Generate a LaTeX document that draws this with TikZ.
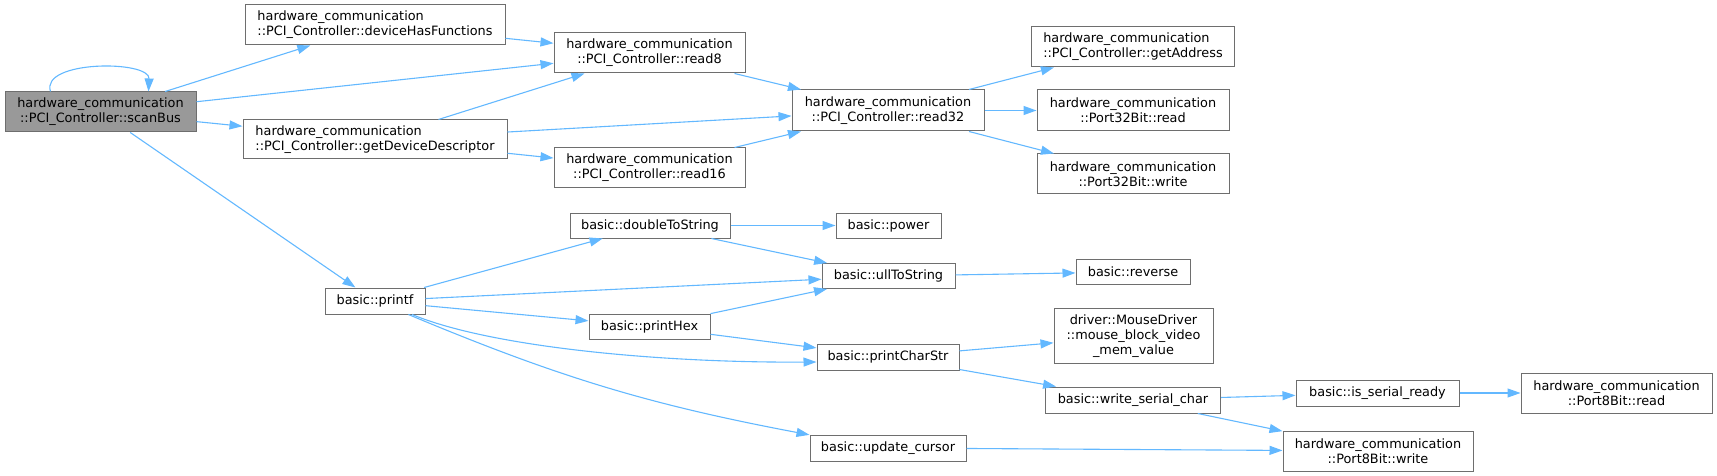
\documentclass[tikz,border=0pt]{standalone}
\usepackage{fontspec}
\setmainfont{DejaVu Sans}
\usepackage{xcolor}
\usepackage{tikz}
\usetikzlibrary{arrows.meta}
\definecolor{edgeblue}{HTML}{63B8FF}
\definecolor{boxgray}{HTML}{6E6E6E}
\definecolor{curgray}{HTML}{999999}

\begin{document}
\begin{tikzpicture}[x=1pt,y=-1pt,
  fn/.style={draw=boxgray, line width=1pt, fill=white, inner sep=0pt,
    font=\fontsize{12.85}{15}\selectfont, align=center},
  fnl/.style={fn, align=left},
  call/.style={draw=edgeblue, line width=1.1pt, -{Triangle[length=13pt,width=9pt]}}]
  \useasboundingbox (0,0) rectangle (1717,476);

  % rank 0
  \node[fn, fill=curgray, minimum width=191pt, minimum height=40pt] (scanBus) at (100.5,112) {hardware\_communication\\::PCI\_Controller::scanBus};
  % rank 1
  \node[fnl, minimum width=260pt, minimum height=40pt] (devFn) at (375,25) {hardware\_communication\\::PCI\_Controller::deviceHasFunctions};
  \node[fnl, minimum width=264pt, minimum height=39pt] (getDesc) at (375,139.5) {hardware\_communication\\::PCI\_Controller::getDeviceDescriptor};
  \node[fn, minimum width=100pt, minimum height=26pt] (printf) at (375,301) {basic::printf};
  % rank 2
  \node[fn, minimum width=191pt, minimum height=40pt] (read8) at (649.5,53) {hardware\_communication\\::PCI\_Controller::read8};
  \node[fn, minimum width=191pt, minimum height=40pt] (read16) at (649.5,168) {hardware\_communication\\::PCI\_Controller::read16};
  \node[fn, minimum width=160pt, minimum height=25pt] (dblStr) at (650,225.5) {basic::doubleToString};
  \node[fn, minimum width=121pt, minimum height=25pt] (printHex) at (649.5,326.5) {basic::printHex};
  % rank 3
  \node[fn, minimum width=192pt, minimum height=41pt] (read32) at (888,110.5) {hardware\_communication\\::PCI\_Controller::read32};
  \node[fn, minimum width=105pt, minimum height=25pt] (power) at (888.5,225.5) {basic::power};
  \node[fn, minimum width=133pt, minimum height=25pt] (ullStr) at (888.5,276) {basic::ullToString};
  \node[fn, minimum width=142pt, minimum height=26pt] (printStr) at (888,357) {basic::printCharStr};
  \node[fn, minimum width=156pt, minimum height=26pt] (cursor) at (888,448) {basic::update\_cursor};
  % rank 4
  \node[fnl, minimum width=203pt, minimum height=40pt] (getAddr) at (1133,47) {hardware\_communication\\::PCI\_Controller::getAddress};
  \node[fn, minimum width=192pt, minimum height=41pt] (p32read) at (1133,110.5) {hardware\_communication\\::Port32Bit::read};
  \node[fn, minimum width=192pt, minimum height=40pt] (p32write) at (1133,174) {hardware\_communication\\::Port32Bit::write};
  \node[fn, minimum width=114pt, minimum height=25pt] (reverse) at (1133,272) {basic::reverse};
  \node[fn, minimum width=159pt, minimum height=55pt] (mouse) at (1133.5,336) {driver::MouseDriver\\::mouse\_block\_video\\\_mem\_value};
  \node[fn, minimum width=175pt, minimum height=26pt] (serChar) at (1133,400) {basic::write\_serial\_char};
  % rank 5 and 6
  \node[fn, minimum width=163pt, minimum height=26pt] (serReady) at (1377.5,393) {basic::is\_serial\_ready};
  \node[fn, minimum width=190pt, minimum height=40pt] (p8write) at (1378,451) {hardware\_communication\\::Port8Bit::write};
  \node[fn, minimum width=191pt, minimum height=40pt] (p8read) at (1616.5,393) {hardware\_communication\\::Port8Bit::read};

  % calls
  \draw[call] ([xshift=-50pt]scanBus.north) .. controls (40,60) and (150,60) .. ([xshift=48pt]scanBus.north);
  \draw[call] (scanBus) -- (devFn);
  \draw[call] (scanBus) -- (read8);
  \draw[call] (scanBus) -- (getDesc);
  \draw[call] (scanBus) -- (printf);
  \draw[call] (devFn) -- (read8);
  \draw[call] (getDesc) -- (read8);
  \draw[call] (getDesc) -- (read32);
  \draw[call] (getDesc) -- (read16);
  \draw[call] (read8) -- (read32);
  \draw[call] (read16) -- (read32);
  \draw[call] (read32) -- (getAddr);
  \draw[call] (read32) -- (p32read);
  \draw[call] (read32) -- (p32write);
  \draw[call] (printf) -- (dblStr);
  \draw[call] (printf) -- (ullStr);
  \draw[call] (printf) -- (printHex);
  \draw[call] (printf.-20) .. controls (490,347) and (660,363) .. (printStr.184);
  \draw[call] (printf.-22) to[bend right=6] (cursor);
  \draw[call] (dblStr) -- (power);
  \draw[call] (dblStr) -- (ullStr);
  \draw[call] (ullStr) -- (reverse);
  \draw[call] (printHex) -- (ullStr);
  \draw[call] (printHex) -- (printStr);
  \draw[call] (printStr) -- (mouse);
  \draw[call] (printStr) -- (serChar);
  \draw[call] (serChar) -- (serReady);
  \draw[call] (serChar) -- (p8write);
  \draw[call] (serReady) -- (p8read);
  \draw[call] (cursor) -- (p8write);
\end{tikzpicture}
\end{document}
